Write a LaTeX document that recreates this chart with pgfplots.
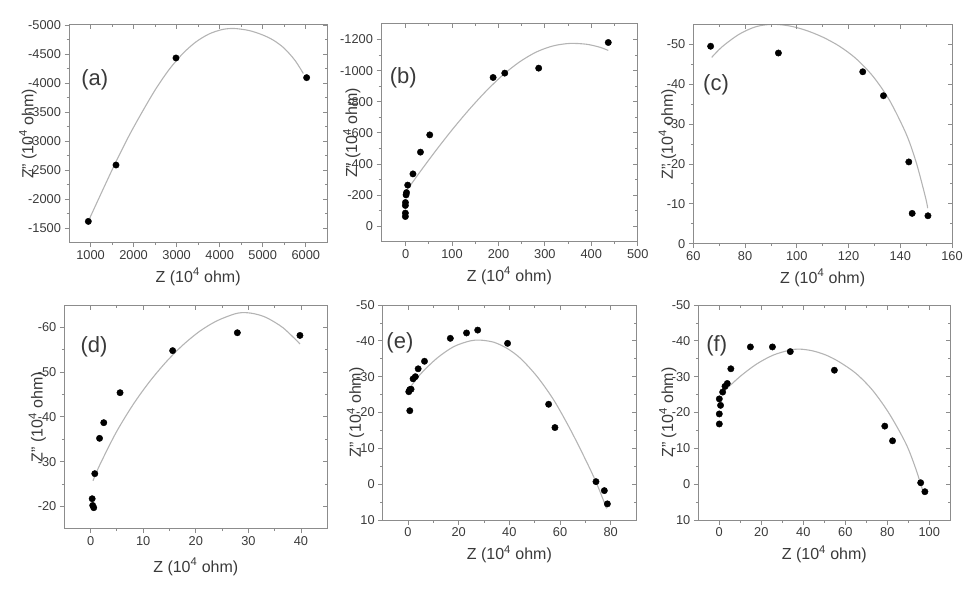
\documentclass[border=0pt]{standalone}
\usepackage{fontspec}
\setmainfont{Liberation Sans}
\usepackage{pgfplots}
\pgfplotsset{compat=1.18}
\definecolor{axcol}{HTML}{8C8C8C}
\definecolor{fitcol}{HTML}{B4B4B4}
\definecolor{txtcol}{HTML}{3A3A3A}

\tikzset{plab/.style={font=\fontsize{22}{24}\selectfont, text=txtcol}}

\pgfplotsset{
  common/.style={
    scale only axis, anchor=south west, y dir=reverse,
    axis line style={draw=axcol, line width=1pt},
    tick style={draw=axcol, line width=0.8pt},
    major tick length=4.5pt, minor tick length=2.5pt,
    minor tick num=1,
    scaled ticks=false,
    /pgf/number format/1000 sep={},
    /pgf/number format/assume math mode=true,
  },
  panel/.style={
    common,
    tick align=outside, xtick pos=bottom, ytick pos=left,
    tick label style={font=\fontsize{12.8}{14}\selectfont, text=txtcol},
    label style={font=\fontsize{16}{18}\selectfont, text=txtcol},
    xlabel={Z (10\textsuperscript{4} ohm)},
    ylabel={Z" (10\textsuperscript{4} ohm)},
    xlabel style={at={(axis description cs:0.5,0)}, anchor=center, yshift=-34pt},
  },
  mirror/.style={
    common,
    tick align=inside, xtick pos=top, ytick pos=right,
    xticklabels={}, yticklabels={},
  },
  dots/.style={only marks, mark=*, mark size=3.2pt, black},
  fit/.style={no marks, fitcol, line width=1.1pt, smooth},
  % panel geometry and limits
  pa/.style={at={(69pt,349.3pt)}, width=258.3pt, height=217.7pt,
    xmin=500, xmax=6500, ymin=-5000, ymax=-1250,
    xtick={1000,2000,3000,4000,5000,6000},
    ytick={-5000,-4500,-4000,-3500,-3000,-2500,-2000,-1500}},
  pb/.style={at={(381pt,350.3pt)}, width=256.7pt, height=217.7pt,
    xmin=-53, xmax=500, ymin=-1300, ymax=100,
    xtick={0,100,200,300,400,500},
    ytick={-1200,-1000,-800,-600,-400,-200,0}},
  pc/.style={at={(693.3pt,348.3pt)}, width=258.7pt, height=219.4pt,
    xmin=60, xmax=160, ymin=-55, ymax=0,
    xtick={60,80,100,120,140,160},
    ytick={-50,-40,-30,-20,-10,0}},
  pd/.style={at={(64.3pt,63.3pt)}, width=263pt, height=223.7pt,
    xmin=-5, xmax=45, ymin=-65, ymax=-15,
    xtick={0,10,20,30,40},
    ytick={-60,-50,-40,-30,-20}},
  pe/.style={at={(382.7pt,72pt)}, width=253.3pt, height=215pt,
    xmin=-10, xmax=90, ymin=-50, ymax=10,
    xtick={0,20,40,60,80},
    ytick={-50,-40,-30,-20,-10,0,10}},
  pf/.style={at={(698.3pt,72pt)}, width=252pt, height=215pt,
    xmin=-10, xmax=110, ymin=-50, ymax=10,
    xtick={0,20,40,60,80,100},
    ytick={-50,-40,-30,-20,-10,0,10}},
}

\begin{document}
\begin{tikzpicture}
\useasboundingbox (0,0) rectangle (975pt,592pt);

% ---------------- (a)
\begin{axis}[panel, pa, ylabel style={at={(axis description cs:-0.159,0.5)}, anchor=center}]
\addplot[fit] coordinates {(980,-1670) (1274,-2143) (1584,-2633) (1894,-3092) (2203,-3506) (2513,-3895) (2823,-4230) (3132,-4500) (3442,-4705) (3752,-4845) (4061,-4922) (4332,-4940) (4681,-4905) (4990,-4831) (5246,-4739) (5500,-4599) (5750,-4390) (5943,-4165)};
\addplot[dots] coordinates {(949,-1617) (1592,-2588) (2985,-4432) (6020,-4093)};
\node[plab] at (axis description cs:0.10,0.747) {(a)};
\end{axis}
\begin{axis}[mirror, pa]
\end{axis}

% ---------------- (b)
\begin{axis}[panel, pb, ylabel style={at={(axis description cs:-0.114,0.5)}, anchor=center}]
\addplot[fit] coordinates {(3.6,-234) (30.8,-348) (66.7,-492) (102.5,-628) (138.4,-755) (174.2,-871) (210,-973) (245.9,-1057) (281.7,-1120) (317.6,-1159) (353.4,-1175) (389.2,-1170) (417.9,-1151) (436.6,-1130)};
\addplot[dots] coordinates {(-0.5,-62) (-0.5,-84) (-0.5,-133) (-0.3,-152) (1,-201) (2,-216) (4.5,-264) (15.8,-336) (32,-476) (52,-587) (188.5,-956) (213.6,-984) (286.7,-1016) (436.6,-1181)};
\node[plab] at (axis description cs:0.087,0.752) {(b)};
\end{axis}
\begin{axis}[mirror, pb]
\end{axis}

% ---------------- (c)
\begin{axis}[panel, pc, ylabel style={at={(axis description cs:-0.10,0.5)}, anchor=center}]
\addplot[fit] coordinates {(67.1,-46.7) (71.2,-49.4) (77.7,-52.5) (84.2,-54.4) (90.6,-55.0) (97.1,-54.6) (103.5,-53.5) (110,-51.8) (116.5,-49.5) (122.9,-46.4) (129.4,-42.0) (135.8,-36.0) (142.3,-27.5) (146.2,-20.3) (149.8,-11.5) (150.6,-8.9)};
\addplot[dots] coordinates {(66.7,-49.5) (92.9,-47.8) (125.5,-43.1) (133.5,-37.1) (143.3,-20.5) (144.6,-7.6) (150.7,-7.0)};
\node[plab] at (axis description cs:0.088,0.723) {(c)};
\end{axis}
\begin{axis}[mirror, pc]
\end{axis}

% ---------------- (d)
\begin{axis}[panel, pd, ylabel style={at={(axis description cs:-0.103,0.5)}, anchor=center},
  xlabel style={yshift=-4pt}]
\addplot[fit] coordinates {(0.45,-25.7) (1.6,-28.9) (4.8,-36.4) (8.0,-42.6) (11.1,-47.7) (14.3,-52.2) (17.5,-56.0) (20.7,-59.1) (23.9,-61.4) (27.1,-62.9) (28.8,-63.3) (30.9,-63.1) (33.4,-62.2) (36.6,-59.9) (39.8,-56.3)};
\addplot[dots] coordinates {(0.3,-21.7) (0.4,-20.2) (0.6,-19.7) (0.8,-27.3) (1.7,-35.2) (2.5,-38.7) (5.6,-45.4) (15.6,-54.8) (27.9,-58.8) (39.8,-58.2)};
\node[plab] at (axis description cs:0.113,0.814) {(d)};
\end{axis}
\begin{axis}[mirror, pd]
\end{axis}

% ---------------- (e)
\begin{axis}[panel, pe, ylabel style={at={(axis description cs:-0.107,0.5)}, anchor=center}]
\addplot[fit] coordinates {(0,-26.2) (4.9,-30.7) (11.5,-35.2) (18.1,-38.4) (24.6,-40.0) (28.6,-40.2) (33.9,-39.6) (39.1,-37.9) (44.4,-35.1) (51.0,-30.0) (57.6,-23.4) (64.2,-15.1) (70.8,-5.8) (74.7,0.2) (78.4,6.8)};
\addplot[dots] coordinates {(0.3,-25.8) (0.7,-26.4) (1.2,-26.5) (0.7,-20.5) (2.0,-29.4) (2.9,-30.0) (4.0,-32.2) (6.5,-34.3) (16.7,-40.7) (23.1,-42.2) (27.5,-43.0) (39.3,-39.3) (55.5,-22.3) (58.0,-15.8) (74.2,-0.7) (77.5,1.8) (78.7,5.5)};
\node[plab] at (axis description cs:0.068,0.825) {(e)};
\end{axis}
\begin{axis}[mirror, pe]
\end{axis}

% ---------------- (f)
\begin{axis}[panel, pf, ylabel style={at={(axis description cs:-0.121,0.5)}, anchor=center}]
\addplot[fit] coordinates {(1.6,-25.6) (9.8,-30.0) (17.7,-33.5) (25.6,-36.0) (33.5,-37.4) (38.2,-37.7) (44.5,-37.2) (50.9,-36.0) (57.2,-34.1) (65.1,-30.9) (73.0,-26.2) (80.9,-19.7) (88.8,-11.4) (93.5,-4.4) (97.5,3.0)};
\addplot[dots] coordinates {(0,-16.8) (0,-19.6) (0.6,-22.0) (0,-23.8) (1.6,-25.7) (2.7,-27.3) (3.8,-28.1) (5.5,-32.2) (14.8,-38.3) (25.3,-38.3) (33.8,-37.0) (54.8,-31.8) (78.8,-16.2) (82.5,-12.1) (95.9,-0.4) (97.9,2.1)};
\node[plab] at (axis description cs:0.073,0.81) {(f)};
\end{axis}
\begin{axis}[mirror, pf]
\end{axis}

\end{tikzpicture}
\end{document}
